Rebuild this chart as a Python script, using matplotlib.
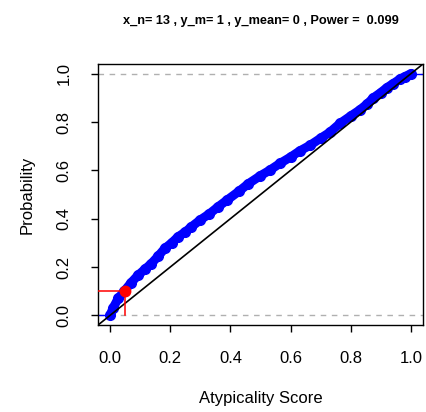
import matplotlib
matplotlib.use("Agg")
import matplotlib.pyplot as plt

plt.rcParams["font.family"] = ["Liberation Sans", "DejaVu Sans"]

# ECDF of atypicality scores
score = [0.0, 0.01, 0.027, 0.047, 0.07, 0.093, 0.115, 0.137, 0.16, 0.182,
         0.205, 0.226, 0.25, 0.27, 0.30, 0.33, 0.36, 0.39, 0.43, 0.46,
         0.50, 0.53, 0.565, 0.60, 0.63, 0.665, 0.70, 0.73, 0.765, 0.80,
         0.83, 0.855, 0.875, 0.90, 0.92, 0.94, 0.963, 0.98, 1.0]
prob = [0.0, 0.03, 0.07, 0.10, 0.135, 0.166, 0.19, 0.214, 0.245, 0.277,
        0.30, 0.325, 0.345, 0.366, 0.395, 0.42, 0.45, 0.478, 0.515, 0.545,
        0.578, 0.60, 0.629, 0.655, 0.68, 0.704, 0.733, 0.757, 0.795, 0.825,
        0.85, 0.875, 0.90, 0.922, 0.942, 0.958, 0.977, 0.988, 1.0]

alpha_x, alpha_y = 0.05, 0.1
ticks = [0.0, 0.2, 0.4, 0.6, 0.8, 1.0]
title = "x_n= 13 , y_m= 1 , y_mean= 0 , Power =  0.099"

fig = plt.figure(figsize=(4.27, 4.12), dpi=100)
ax = fig.add_axes([0.2295, 0.211, 0.7611, 0.6337])
lo, hi = -0.04, 1.04
ax.set_xlim(lo, hi)
ax.set_ylim(lo, hi)

# reference lines
ax.axhline(0, color="#b0b0b0", ls=(0, (4, 4)), lw=1)
ax.axhline(1, color="#b0b0b0", ls=(0, (4, 4)), lw=1)
ax.plot([lo, hi], [lo, hi], color="black", lw=1.2, zorder=3)

# ecdf tails
ax.plot([lo, score[0]], [0, 0], color="blue", lw=1, zorder=2)
ax.plot([score[-1], hi], [1, 1], color="blue", lw=1, zorder=2)

# ecdf points
ax.plot(score, prob, color="blue", lw=6.5, solid_capstyle="round",
        solid_joinstyle="round", marker="o", ms=7, zorder=2)

# alpha level marker
ax.plot([lo, alpha_x], [alpha_y, alpha_y], color="red", lw=1.1, zorder=4)
ax.plot([alpha_x, alpha_x], [alpha_y, 0], color="red", lw=1.1, zorder=4)
ax.plot([alpha_x], [alpha_y], "o", color="red", ms=7.5, zorder=5)

ax.set_xticks(ticks)
ax.set_yticks(ticks)
ax.set_xticklabels([f"{t:.1f}" for t in ticks])
ax.set_yticklabels([f"{t:.1f}" for t in ticks], rotation=90, va="center")
ax.tick_params(direction="out", length=5, width=1, labelsize=12, pad=14)
for s in ax.spines.values():
    s.set_linewidth(1)

ax.set_xlabel("Atypicality Score", fontsize=12, labelpad=18)
ax.set_ylabel("Probability", fontsize=12, labelpad=16)
fig.text(0.61, 0.95, title, ha="center", va="center", fontsize=9.2,
         fontweight="bold")

plt.savefig("out.png", dpi=100)
plt.close()
